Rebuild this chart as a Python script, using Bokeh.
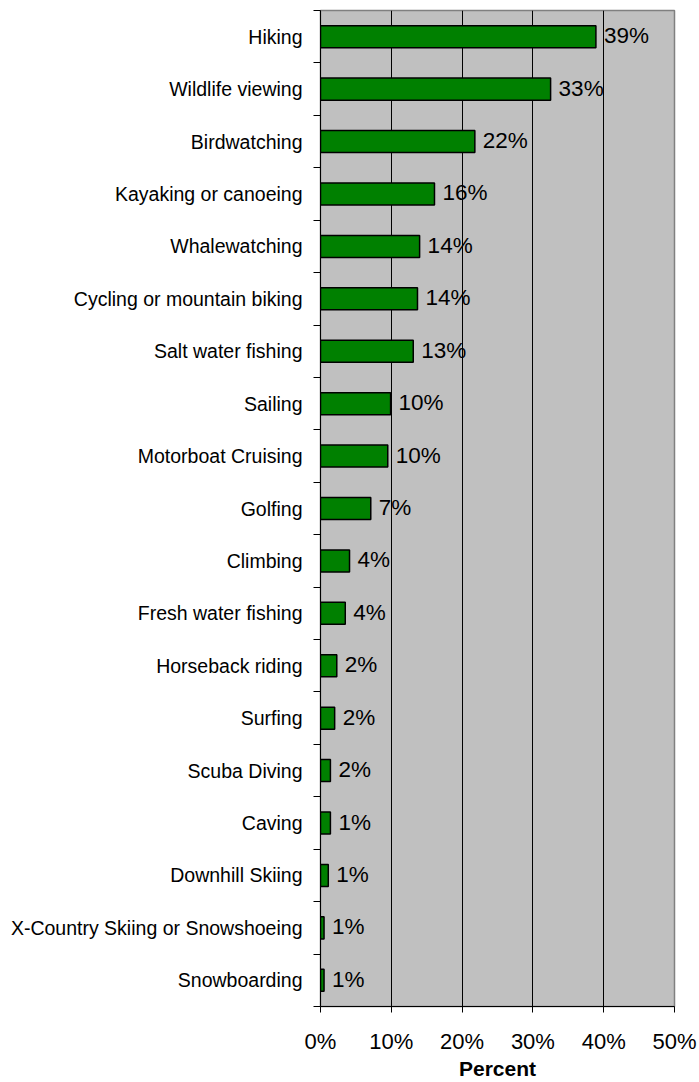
from bokeh.plotting import figure
from bokeh.models import ColumnDataSource, FixedTicker, PrintfTickFormatter, Range1d
from bokeh.core.properties import value
from bokeh.embed import file_html
from bokeh.resources import INLINE

# Data (top to bottom as in the chart)
activities = [
    "Hiking", "Wildlife viewing", "Birdwatching", "Kayaking or canoeing",
    "Whalewatching", "Cycling or mountain biking", "Salt water fishing",
    "Sailing", "Motorboat Cruising", "Golfing", "Climbing",
    "Fresh water fishing", "Horseback riding", "Surfing", "Scuba Diving",
    "Caving", "Downhill Skiing", "X-Country Skiing or Snowshoeing", "Snowboarding",
]
percent = [38.9, 32.5, 21.8, 16.1, 14.0, 13.7, 13.1, 9.9, 9.5, 7.1, 4.1,
           3.5, 2.3, 2.0, 1.4, 1.4, 1.1, 0.5, 0.5]
labels = ["39%", "33%", "22%", "16%", "14%", "14%", "13%", "10%", "10%", "7%",
          "4%", "4%", "2%", "2%", "2%", "1%", "1%", "1%", "1%"]
x_ticks = [0, 10, 20, 30, 40, 50]

n = len(activities)
ypos = [n - i - 0.5 for i in range(n)]

src = ColumnDataSource(dict(y=ypos, v=percent, lab=labels, name=activities))

FONT = "Liberation Sans"

p = figure(width=699, height=1082, output_backend="svg", toolbar_location=None,
           x_range=Range1d(0, 50), y_range=Range1d(0, n),
           min_border_left=320, min_border_right=25, min_border_top=10,
           min_border_bottom=72)

p.background_fill_color = "#C0C0C0"
p.border_fill_color = "white"
p.outline_line_color = "#808080"
p.outline_line_width = 1.5

p.hbar(y="y", right="v", left=0, height=0.42, source=src,
       fill_color="#008000", line_color="black", line_width=1.5)

p.text(x="v", y="y", text="lab", source=src, x_offset=8, y_offset=-1,
       text_align="left", text_baseline="middle",
       text_font=value(FONT), text_font_size="22.5px", text_color="black")

# x axis
p.xaxis.ticker = FixedTicker(ticks=x_ticks)
p.xaxis.formatter = PrintfTickFormatter(format="%d%%")
p.xaxis.major_label_text_font = FONT
p.xaxis.major_label_text_font_size = "22px"
p.xaxis.major_label_text_color = "black"
p.xaxis.major_tick_out = 6
p.xaxis.major_tick_in = 0
p.xaxis.minor_tick_line_color = None
p.xaxis.major_label_standoff = 16
p.xaxis.axis_label = "Percent"
p.xaxis.axis_label_text_font = FONT
p.xaxis.axis_label_text_font_size = "21px"
p.xaxis.axis_label_text_font_style = "bold"
p.xaxis.axis_label_text_color = "black"
p.xaxis.axis_label_standoff = 0
p.xaxis.axis_line_color = "black"

# y axis: labels at centers, ticks at boundaries
p.yaxis.ticker = FixedTicker(ticks=ypos, minor_ticks=list(range(n + 1)))
p.yaxis.major_label_overrides = {y: a for y, a in zip(ypos, activities)}
p.yaxis.major_tick_line_color = None
p.yaxis.major_tick_out = 0
p.yaxis.major_tick_in = 0
p.yaxis.minor_tick_out = 7
p.yaxis.minor_tick_in = 0
p.yaxis.minor_tick_line_color = "black"
p.yaxis.major_label_standoff = 11
p.yaxis.major_label_text_font = FONT
p.yaxis.major_label_text_font_size = "19.5px"
p.yaxis.major_label_text_color = "black"
p.yaxis.axis_line_color = "black"

# grid
p.xgrid.ticker = FixedTicker(ticks=[10, 20, 30, 40])
p.xgrid.grid_line_color = "black"
p.xgrid.grid_line_width = 1
p.ygrid.grid_line_color = None

open("out.html", "w").write(file_html(p, INLINE))
